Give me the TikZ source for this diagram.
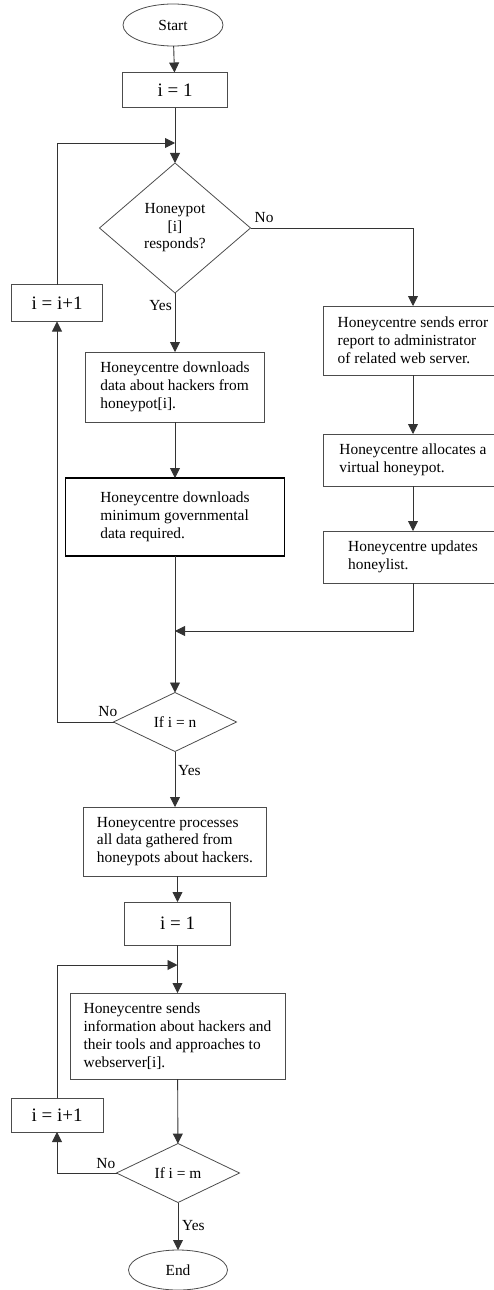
\documentclass[tikz,border=0pt]{standalone}
\usepackage{fontspec}
\setmainfont{Liberation Serif}
\usetikzlibrary{shapes.geometric, arrows.meta, calc}
\tikzstyle{terminal} = [ellipse, draw=black!70, line width=0.8pt,
inner sep=0pt, outer sep=0pt,
font=\fontsize{15.4}{18}\selectfont]
\tikzstyle{counter} = [rectangle, draw=black!70, line width=0.8pt,
inner sep=0pt, outer sep=0pt,
font=\fontsize{19}{22}\selectfont]
\tikzstyle{process} = [rectangle, draw=black!70, line width=0.8pt,
inner sep=2pt, outer sep=0pt, align=left,
font=\fontsize{15.4}{17.8}\selectfont]
\tikzstyle{decision} = [diamond, draw=black!70, line width=0.8pt,
inner sep=0pt, outer sep=0pt, align=center,
font=\fontsize{15.4}{17.5}\selectfont]
\tikzstyle{arrow} = [-{Triangle[length=10pt,width=10pt]}, draw=black!80, line width=0.9pt]
\tikzstyle{lbl} = [inner sep=0pt, font=\fontsize{15.4}{18}\selectfont]

\begin{document}
\begin{tikzpicture}[x=1pt,y=-1pt]
\clip (0,0) rectangle (494,1290);
% first loop: collect data from every honeypot
\node[terminal, minimum width=100pt, minimum height=42pt] (start) at (173,25) {Start};
\node[counter, minimum width=105pt, minimum height=35pt] (init1) at (175,90) {i = 1};
\node[decision, minimum width=151pt, minimum height=130pt] (ask) at (175,228) {Honeypot\\{[i]}\\responds?};
\node[counter, minimum width=91pt, minimum height=37pt] (incA) at (57,303) {i = i+1};
\node[process, minimum width=179pt, minimum height=70pt] (fetch) at (175,387)
  {Honeycentre downloads\\data about hackers from\\honeypot[i].};
\node[process, draw=black, line width=1.6pt, minimum width=219pt, minimum height=78pt] (gov) at (175,517)
  {Honeycentre downloads\\minimum governmental\\data required.};
\node[process, minimum width=180pt, minimum height=69pt] (report) at (413,340.5)
  {Honeycentre sends error\\report to administrator\\of related web server.};
\node[process, minimum width=180pt, minimum height=52pt] (virt) at (413,460)
  {Honeycentre allocates a\\virtual honeypot.};
\node[process, minimum width=180pt, minimum height=52pt] (upd) at (413,557)
  {Honeycentre updates\\honeylist.};
\node[decision, minimum width=123pt, minimum height=59pt] (lastn) at (175,722) {If i = n};
\coordinate (join1) at (175,143);
\coordinate (merge) at (175,631);
% second loop: send results to every web server
\node[process, minimum width=183pt, minimum height=69pt] (proc) at (175,841.5)
  {Honeycentre processes\\all data gathered from\\honeypots about hackers.};
\node[counter, minimum width=106pt, minimum height=43pt] (init2) at (177.5,923.5) {i = 1};
\node[process, minimum width=215pt, minimum height=86pt] (send) at (177.5,1036)
  {Honeycentre sends\\information about hackers and\\their tools and approaches to\\webserver[i].};
\node[counter, minimum width=92pt, minimum height=34pt] (incB) at (57,1115) {i = i+1};
\node[decision, minimum width=123pt, minimum height=59pt] (lastm) at (178,1173) {If i = m};
\node[terminal, minimum width=99pt, minimum height=40pt] (end) at (178,1270) {End};
\coordinate (join2) at (177.5,965);
% labels
\node[lbl, anchor=south west] (no1) at ([xshift=4pt,yshift=5pt]ask.east) {No};
\node[lbl, anchor=north east] (yes1) at ([xshift=-3pt,yshift=-7pt]ask.south) {Yes};
\node[lbl, anchor=south east] (no2) at ([xshift=4pt,yshift=5pt]lastn.west) {No};
\node[lbl, anchor=north west] (yes2) at ([xshift=3pt,yshift=-14pt]lastn.south) {Yes};
\node[lbl, anchor=south east] (no3) at ([xshift=-1pt,yshift=4pt]lastm.west) {No};
\node[lbl, anchor=north west] (yes3) at ([xshift=4pt,yshift=-18pt]lastm.south) {Yes};
% connectors
\draw[arrow] (start) -- (init1);
\draw[arrow] (init1) -- (ask);
\draw[arrow] (incA.north) |- (join1);
\draw[arrow] (ask.east) -| (report.north);
\draw[arrow] (ask) -- (fetch);
\draw[arrow] (fetch) -- (gov);
\draw[arrow] (report) -- (virt);
\draw[arrow] (virt) -- (upd);
\draw[arrow] (upd.south) |- (merge);
\draw[arrow] (gov) -- (lastn);
\draw[arrow] (lastn.west) -| (incA.south);
\draw[arrow] (lastn.south) -- (lastn.south |- proc.north);
\draw[arrow] (init2.north |- proc.south) -- (init2.north);
\draw[arrow] (init2) -- (send);
\draw[arrow] (incB.north) |- (join2);
\draw[arrow] (send) -- (lastm);
\draw[arrow] (lastm.west) -| (incB.south);
\draw[arrow] (lastm) -- (end);
\end{tikzpicture}
\end{document}
